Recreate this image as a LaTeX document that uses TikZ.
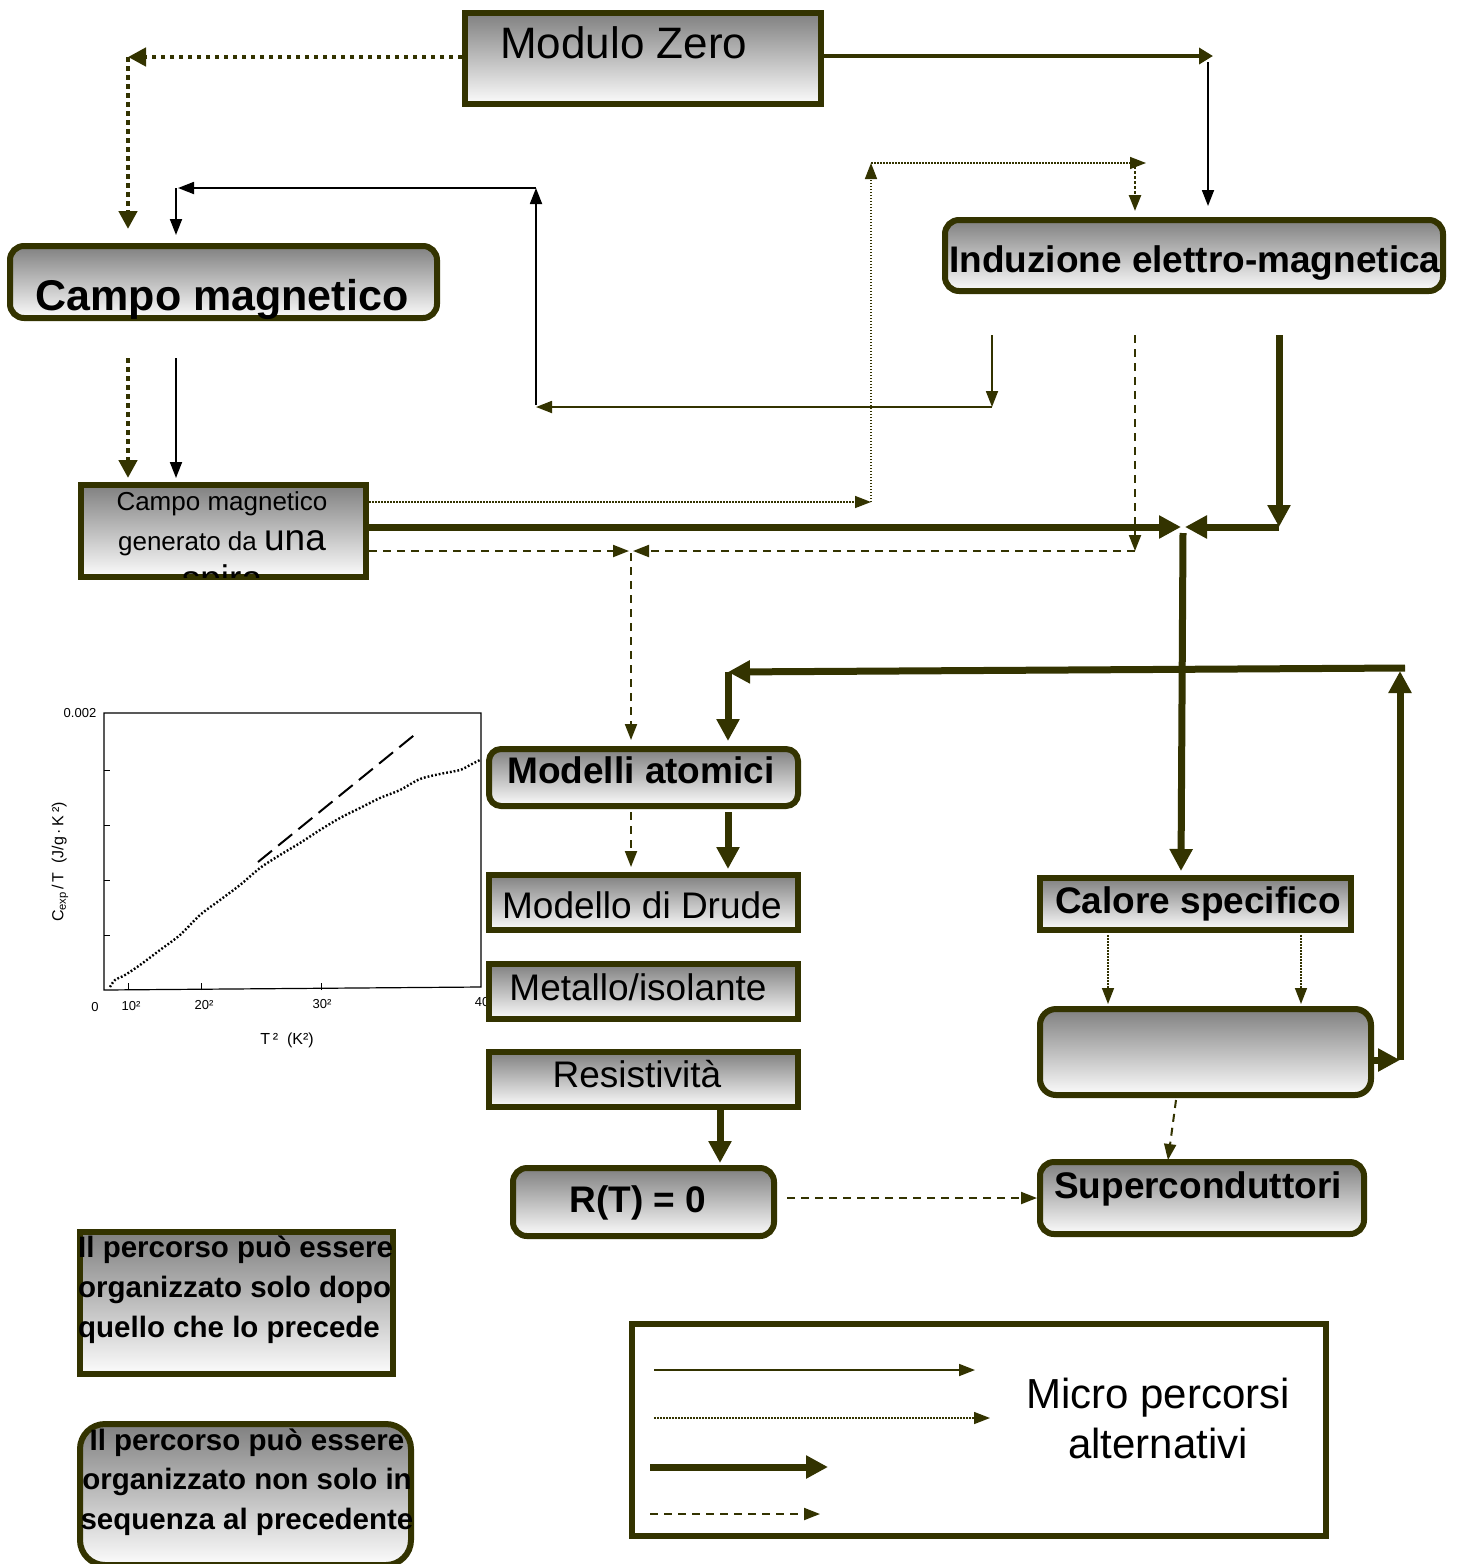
\documentclass[tikz,border=0pt]{standalone}
\usepackage{fontspec}
\setmainfont{Liberation Sans}
\usetikzlibrary{arrows.meta}
\definecolor{ol}{RGB}{51,51,0}
\definecolor{gtop}{RGB}{128,128,128}
\definecolor{gbot}{RGB}{252,252,252}
\tikzset{
 box/.style={draw=ol, line width=6pt, top color=gtop, bottom color=gbot, inner sep=0pt, rectangle},
 rbox/.style={box, rounded corners=14pt},
 txt/.style={inner sep=0pt, anchor=base},
 ftA/.style={font=\fontsize{37}{40}\selectfont},
 ftB/.style={font=\fontsize{37}{40}\selectfont\bfseries},
 ftN/.style={font=\fontsize{29.5}{32}\selectfont\bfseries},
 tipS/.style={-{Triangle[length=16pt,width=12pt]}},
 tipB/.style={-{Triangle[length=22pt,width=22pt]}},
 thinB/.style={line width=1.8pt, black, tipS},
 thinO/.style={line width=1.8pt, ol, tipS},
 dotF/.style={line width=1.5pt, ol, dash pattern=on 1.5pt off 1.5pt, tipS},
 dotM/.style={line width=2.5pt, ol, dash pattern=on 2.5pt off 2.5pt, tipS},
 dotT/.style={line width=4.5pt, ol, dash pattern=on 4.5pt off 4.5pt, -{Triangle[length=18pt,width=18pt]}},
 dsh/.style={line width=2pt, ol, dash pattern=on 8pt off 6pt, tipS},
 thk/.style={line width=7pt, ol, tipB},
 med/.style={line width=4pt, ol, -{Triangle[length=14pt,width=16pt]}},
 gtxt/.style={inner sep=0pt, font=\fontsize{13}{15}\selectfont},
}
\begin{document}
\begin{tikzpicture}[x=1pt,y=-1pt]
\useasboundingbox (0,0) rectangle (1463,1564);

% ---------- graph ----------
\draw[line width=1.2pt] (104,713) -- (481,713) -- (481,987) -- (104,990) -- cycle;
\foreach \yy in {770,825,880,935} \draw[line width=1pt] (104,\yy) -- (110,\yy);
\foreach \xx in {128,201,321} \draw[line width=1pt] (\xx,990) -- (\xx,983);
\node[gtxt] (g0) at (80,713) {0.002};
\node[gtxt] (gx0) at (95,1007) {0};
\node[gtxt] (gx1) at (131,1006) {10²};
\node[gtxt] (gx2) at (204,1005) {20²};
\node[gtxt] (gx3) at (322,1004) {30²};
\node[gtxt] (gx4) at (482,1002) {40};
\node[gtxt, font=\fontsize{16}{18}\selectfont] (gxl) at (287,1040) {T\,²~~(K²)};
\node[gtxt, rotate=90, font=\fontsize{16}{18}\selectfont] (gyl) at (60,862) {C\textsubscript{exp}\,/\,T~~(J/g\,·\,K\,²)};
\draw[line width=2pt, dash pattern=on 18pt off 8pt] (258,862) -- (418,732);
\draw[line width=2.4pt, dash pattern=on 1.8pt off 2pt] plot[smooth] coordinates {(110,987) (115,980) (125,975) (140,965) (160,950) (180,935) (200,915) (220,900) (240,885) (260,868) (280,855) (300,843) (320,830) (340,818) (360,808) (380,798) (400,790) (420,779) (440,774) (460,770) (470,765) (480,760)};

% ---------- boxes ----------
\node[box, minimum width=356pt, minimum height=91pt] (mz) at (643,58.5) {};
\node[txt, anchor=base west, font=\fontsize{44}{48}\selectfont] (mzt) at (500,58) {Modulo Zero};

\node[rbox, minimum width=427pt, minimum height=72pt] (cm) at (223.5,282) {};
\node[txt, font=\fontsize{43}{46}\selectfont\bfseries] (cmt) at (222,310) {Campo magnetico};

\node[rbox, minimum width=498pt, minimum height=71pt] (ind) at (1194,255.5) {};
\node[txt, anchor=base west, ftB] (indt) at (949,272) {Induzione elettro-magnetica};

\node[box, minimum width=285pt, minimum height=92pt] (sp) at (223.5,531) {};
\begin{scope}
\clip (81,485) rectangle (366,577);
\node[txt, font=\fontsize{26}{30}\selectfont] (spt1) at (222,510) {Campo magnetico};
\node[txt] (spt2) at (222,550) {\fontsize{26}{30}\selectfont generato da \fontsize{37}{40}\selectfont una};
\node[txt, font=\fontsize{37}{40}\selectfont] (spt3) at (222,591) {spira};
\end{scope}

\node[rbox, rounded corners=12pt, minimum width=309pt, minimum height=57pt] (ma) at (643.5,777.5) {};
\node[txt, ftB] (mat) at (641,783) {Modelli atomici};

\node[box, minimum width=309pt, minimum height=55pt] (dr) at (643.5,902.5) {};
\node[txt, ftA] (drt) at (642,918) {Modello di Drude};

\node[box, minimum width=309pt, minimum height=55pt] (mi) at (643.5,991.5) {};
\node[txt, ftA] (mit) at (638,1000) {Metallo/isolante};

\node[box, minimum width=309pt, minimum height=55pt] (rs) at (643.5,1079.5) {};
\node[txt, ftA] (rst) at (637,1087) {Resistività};

\node[rbox, minimum width=261pt, minimum height=68pt] (rt) at (643.5,1202) {};
\node[txt, ftB] (rtt) at (638,1212) {R(T) = 0};

\node[box, minimum width=311pt, minimum height=52pt] (cs) at (1195.5,904) {};
\node[txt, ftB] (cst) at (1198,913) {Calore specifico};

\node[rbox, rounded corners=16pt, minimum width=331pt, minimum height=86pt] (eb) at (1205.5,1052) {};

\node[rbox, minimum width=324pt, minimum height=72pt] (sc) at (1202,1198) {};
\node[txt, ftB] (sct) at (1198,1198) {Superconduttori};

\node[draw=ol, line width=6pt, fill=white, minimum width=694pt, minimum height=212pt] (lg) at (979,1430) {};
\node[txt, font=\fontsize{42}{50}\selectfont] (lgt1) at (1158,1408) {Micro percorsi};
\node[txt, font=\fontsize{42}{50}\selectfont] (lgt2) at (1158,1458) {alternativi};

\node[box, minimum width=313pt, minimum height=142pt] (n1) at (236.5,1303) {};
\node[txt, anchor=base west, ftN] (n1a) at (78,1257) {Il percorso può essere};
\node[txt, anchor=base west, ftN] (n1b) at (78,1297) {organizzato solo dopo};
\node[txt, anchor=base west, ftN] (n1c) at (78,1337) {quello che lo precede};

\node[rbox, rounded corners=25pt, minimum width=331pt, minimum height=141pt] (n2) at (245.5,1494.5) {};
\node[txt, ftN] (n2a) at (247,1450) {Il percorso può essere};
\node[txt, ftN] (n2b) at (247,1489) {organizzato non solo in};
\node[txt, ftN] (n2c) at (247,1529) {sequenza al precedente};

% ---------- coordinates ----------
\coordinate (a1) at (128,57);
\coordinate (a2) at (128,229);
\coordinate (b1) at (1213,56);
\coordinate (b2) at (1208,62);
\coordinate (b3) at (1208,206);
\coordinate (c1) at (536,405);
\coordinate (c2) at (536,188);
\coordinate (c3) at (178,188);
\coordinate (c4) at (176,188);
\coordinate (c5) at (176,235);
\coordinate (d1) at (992,335);
\coordinate (d2) at (992,407);
\coordinate (d3) at (536,407);
\coordinate (e1) at (871,502);
\coordinate (e2) at (871,163);
\coordinate (e3) at (1146,163);
\coordinate (e4) at (1135,166);
\coordinate (e5) at (1135,211);
\coordinate (f1) at (128,358);
\coordinate (f2) at (128,478);
\coordinate (f3) at (176,358);
\coordinate (f4) at (176,478);
\coordinate (g1) at (1181,527);
\coordinate (g2) at (1185,527);
\coordinate (g3) at (1183,533);
\coordinate (g4) at (1181,871);
\coordinate (h1) at (1279,335);
\coordinate (h2) at (1279,527);
\coordinate (i1) at (1135,335);
\coordinate (i2) at (1135,551);
\coordinate (i3) at (633,551);
\coordinate (i4) at (629,551);
\coordinate (i5) at (631,553);
\coordinate (i6) at (631,740);
\coordinate (j1) at (1405,668);
\coordinate (j2) at (728,672);
\coordinate (j3) at (728,741);
\coordinate (k2) at (1400,1060);
\coordinate (k4) at (1400,671);
\coordinate (l1) at (631,812);
\coordinate (l2) at (631,867);
\coordinate (l3) at (728,812);
\coordinate (l4) at (728,869);
\coordinate (m1) at (720,1110);
\coordinate (m2) at (720,1163);
\coordinate (o1) at (787,1198);
\coordinate (p1) at (1108,935);
\coordinate (p2) at (1108,1004);
\coordinate (p3) at (1301,935);
\coordinate (p4) at (1301,1004);
\coordinate (q1) at (1176,1100);
\coordinate (q2) at (1168,1160);

% ---------- connectors ----------
\draw[dotT] (mz.west |- a1) -- (a1);
\draw[dotT] (a1) -- (a2);
\draw[med] (mz.east |- b1) -- (b1);
\draw[thinB] (b2) -- (b3);
\draw[thinB] (c1) -- (c2);
\draw[thinB] (c2) -- (c3);
\draw[thinB] (c4) -- (c5);
\draw[thinO] (d1) -- (d2);
\draw[thinO] (d2) -- (d3);
\draw[dotF] (sp.east |- e1) -- (e1);
\draw[dotF] (e1) -- (e2);
\draw[dotF] (e2) -- (e3);
\draw[dotM] (e4) -- (e5);
\draw[dotT] (f1) -- (f2);
\draw[thinB] (f3) -- (f4);
\draw[thk] (sp.east |- g1) -- (g1);
\draw[thk] (h1) -- (h2);
\draw[thk] (h2) -- (g2);
\draw[thk] (g3) -- (g4);
\draw[dsh] (i1) -- (i2);
\draw[dsh] (i2) -- (i3);
\draw[dsh] (sp.east |- i4) -- (i4);
\draw[dsh] (i5) -- (i6);
\draw[thk] (j1) -- (j2);
\draw[thk] (j2) -- (j3);
\draw[thk] (eb.east |- k2) -- (k2);
\draw[thk] (k2) -- (k4);
\draw[dsh] (l1) -- (l2);
\draw[thk] (l3) -- (l4);
\draw[thk] (m1) -- (m2);
\draw[dsh] (o1) -- (sc.west);
\draw[dotF] (p1) -- (p2);
\draw[dotF] (p3) -- (p4);
\draw[dsh] (q1) -- (q2);

% ---------- legend ----------
\coordinate (r1) at (654,1370);
\coordinate (r2) at (975,1370);
\coordinate (r3) at (654,1418);
\coordinate (r4) at (990,1418);
\coordinate (r5) at (650,1467);
\coordinate (r6) at (828,1467);
\coordinate (r7) at (650,1514);
\coordinate (r8) at (820,1514);
\draw[thinO] (r1) -- (r2);
\draw[dotF] (r3) -- (r4);
\draw[thk] (r5) -- (r6);
\draw[dsh] (r7) -- (r8);
\end{tikzpicture}
\end{document}
